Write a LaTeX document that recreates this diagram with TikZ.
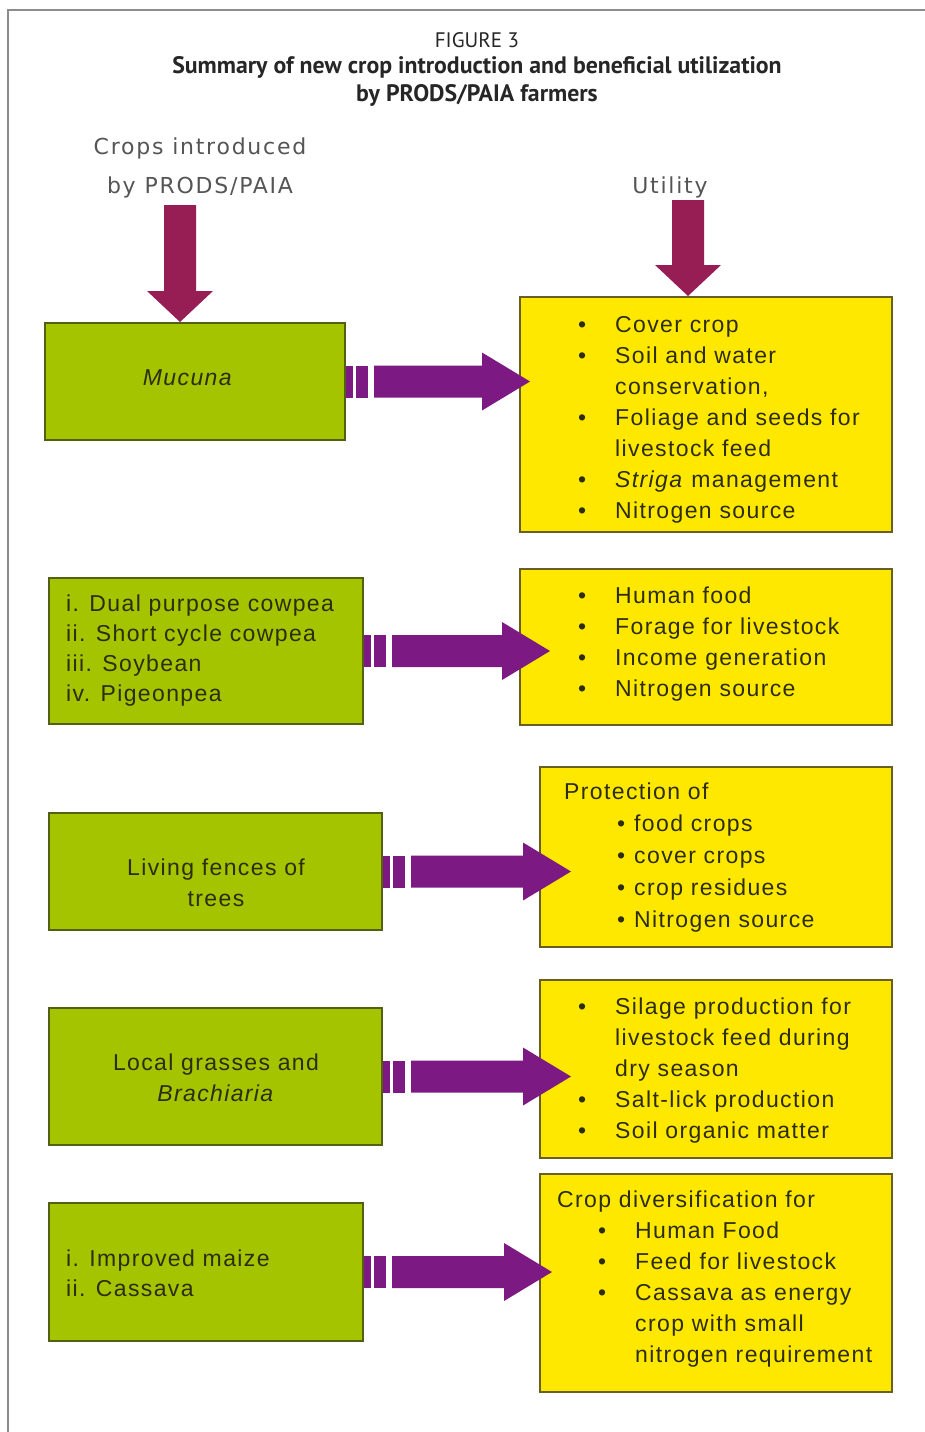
\documentclass[tikz,border=0pt]{standalone}
\usepackage{fontspec}
\setmainfont{Liberation Sans}
\newfontfamily\titlefont{PT Sans}
\newfontfamily\headfont[LetterSpace=8]{DejaVu Sans}
\newfontfamily\boxfont[LetterSpace=6]{Liberation Sans}
\usepackage{tikz}
\usetikzlibrary{calc}

\definecolor{cropgreen}{RGB}{164,196,0}
\definecolor{cropedge}{RGB}{85,95,20}
\definecolor{utilyellow}{RGB}{255,232,0}
\definecolor{utiledge}{RGB}{105,95,35}
\definecolor{arrowpurple}{RGB}{125,25,130}
\definecolor{arrowmaroon}{RGB}{150,30,85}
\definecolor{boxink}{RGB}{45,45,10}
\definecolor{headgrey}{RGB}{85,85,85}
\definecolor{framegrey}{RGB}{140,140,140}

\tikzset{
  cropbox/.style={
    draw=cropedge,
    fill=cropgreen,
    line width=2pt,
    inner sep=0pt
  },
  utilbox/.style={
    draw=utiledge,
    fill=utilyellow,
    line width=2pt,
    inner sep=0pt
  },
  boxtext/.style={
    inner sep=0pt,
    text=boxink,
    align=left,
    font=\boxfont\fontsize{23}{31}\selectfont
  },
  heading/.style={
    inner sep=0pt,
    text=headgrey,
    align=center,
    font=\headfont\fontsize{22}{39}\selectfont
  }
}

% bullet and hanging indent for the utility lists
\newcommand{\itm}[1][37pt]{\makebox[#1][l]{\textbullet}}
\newcommand{\cnt}{\hspace*{37pt}}

% striped block arrow from a crop box to a tip column
\newcommand{\striparrow}[2]{%
  \coordinate (s) at (#1.east);
  \coordinate (t) at (#1.east -| #2);
  \fill[arrowpurple] ($(s)+(0,-16)$) rectangle ($(s)+(7,16)$);
  \fill[arrowpurple] ($(s)+(10,-16)$) rectangle ($(s)+(22,16)$);
  \fill[arrowpurple] ($(s)+(28,-16)$) -- ($(t)+(-48,-16)$) -- ($(t)+(-48,-29)$)
    -- (t) -- ($(t)+(-48,29)$) -- ($(t)+(-48,16)$) -- ($(s)+(28,16)$) -- cycle;
}

% block arrow pointing down
\newcommand{\fatdown}[2]{%
  \fill[arrowmaroon] ($(#1)+(-16,0)$) -- ($(#2)+(-16,-31)$) -- ($(#2)+(-33,-31)$)
    -- (#2) -- ($(#2)+(33,-31)$) -- ($(#2)+(16,-31)$) -- ($(#1)+(16,0)$) -- cycle;
}

\begin{document}
\begin{tikzpicture}[x=1pt, y=-1pt]
  \useasboundingbox (0,0) rectangle (925,1432);
  \fill[white] (0,0) rectangle (925,1432);
  \draw[framegrey, line width=1.5pt] (8,1432) -- (8,10) -- (925,10);

  \node[text=black!85, font=\titlefont\fontsize{21}{28}\selectfont] (fig) at (477,40) {FIGURE 3};
  \node[text=black!85, align=center, font=\titlefont\bfseries\fontsize{23.8}{28}\selectfont] (title) at (477,81)
    {Summary of new crop introduction and beneficial utilization\\ by PRODS/PAIA farmers};

  \node[heading] (hcrop) at (200,168) {Crops introduced\\ by PRODS/PAIA};
  \node[heading] (hutil) at (670,187) {Utility};

  % crop boxes
  \node[cropbox, minimum width=300pt, minimum height=117pt] (g1) at (195,381.5) {};
  \node[cropbox, minimum width=314pt, minimum height=146pt] (g2) at (206,651) {};
  \node[cropbox, minimum width=333pt, minimum height=117pt] (g3) at (215.5,871.5) {};
  \node[cropbox, minimum width=333pt, minimum height=137pt] (g4) at (215.5,1076.5) {};
  \node[cropbox, minimum width=314pt, minimum height=138pt] (g5) at (206,1272) {};

  % utility boxes
  \node[utilbox, minimum width=372pt, minimum height=235pt] (u1) at (706,414.5) {};
  \node[utilbox, minimum width=372pt, minimum height=156pt] (u2) at (706,647) {};
  \node[utilbox, minimum width=352pt, minimum height=180pt] (u3) at (716,857) {};
  \node[utilbox, minimum width=352pt, minimum height=178pt] (u4) at (716,1069) {};
  \node[utilbox, minimum width=352pt, minimum height=218pt] (u5) at (716,1283) {};

  % crop texts
  \node[boxtext] (c1) at (188,378) {\textit{Mucuna}};
  \node[boxtext, anchor=north west, font=\boxfont\fontsize{23}{30}\selectfont] (c2) at (66,594.5)
    {i. Dual purpose cowpea\\ ii. Short cycle cowpea\\ iii. Soybean\\ iv. Pigeonpea};
  \node[boxtext, align=center] (c3) at (216,883) {Living fences of\\ trees};
  \node[boxtext, align=center] (c4) at (216,1078) {Local grasses and\\ \textit{Brachiaria}};
  \node[boxtext, anchor=north west, font=\boxfont\fontsize{23}{30}\selectfont] (c5) at (66,1249.5)
    {i. Improved maize\\ ii. Cassava};

  % utility texts
  \node[boxtext, anchor=north west] (v1) at (578,316.5)
    {\itm Cover crop\\ \itm Soil and water\\ \cnt conservation,\\ \itm Foliage and seeds for\\
     \cnt livestock feed\\ \itm \textit{Striga} management\\ \itm Nitrogen source};
  \node[boxtext, anchor=north west] (v2) at (578,586.5)
    {\itm Human food\\ \itm Forage for livestock\\ \itm Income generation\\ \itm Nitrogen source};
  \node[boxtext, anchor=north west, font=\boxfont\fontsize{23}{32}\selectfont] (v3) at (564,782.5)
    {Protection of\\ \hspace*{53pt}\itm[17pt]food crops\\ \hspace*{53pt}\itm[17pt]cover crops\\
     \hspace*{53pt}\itm[17pt]crop residues\\ \hspace*{53pt}\itm[17pt]Nitrogen source};
  \node[boxtext, anchor=north west] (v4) at (578,997.5)
    {\itm Silage production for\\ \cnt livestock feed during\\ \cnt dry season\\
     \itm Salt-lick production\\ \itm Soil organic matter};
  \node[boxtext, anchor=north west] (v5) at (557,1190.5)
    {Crop diversification for\\ \hspace*{41pt}\itm Human Food\\ \hspace*{41pt}\itm Feed for livestock\\
     \hspace*{41pt}\itm Cassava as energy\\ \hspace*{78pt}crop with small\\ \hspace*{78pt}nitrogen requirement};

  % down arrows under the headings
  \coordinate (a1) at (180,205);
  \coordinate (a2) at (688,200);
  \fatdown{a1}{a1 |- g1.north}
  \fatdown{a2}{a2 |- u1.north}

  % striped arrows from crops to utility
  \coordinate (tip1) at (530,0);
  \coordinate (tip2) at (550,0);
  \coordinate (tip3) at (571,0);
  \coordinate (tip4) at (571,0);
  \coordinate (tip5) at (552,0);
  \striparrow{g1}{tip1}
  \striparrow{g2}{tip2}
  \striparrow{g3}{tip3}
  \striparrow{g4}{tip4}
  \striparrow{g5}{tip5}
\end{tikzpicture}
\end{document}
